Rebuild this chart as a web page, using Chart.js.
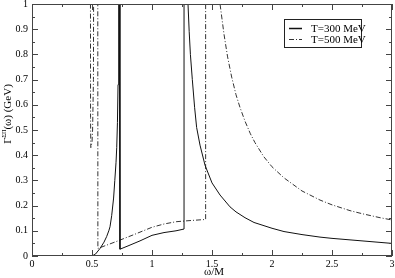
<!DOCTYPE html>
<html>
<head>
<meta charset="utf-8">
<script src="https://cdn.jsdelivr.net/npm/chart.js@4/dist/chart.umd.min.js"></script>
<style>
  body { margin: 0; background: #fff; }
  canvas { display: block; }
</style>
</head>
<body>
<canvas id="gammaChart" width="395" height="278"></canvas>
<script>
// values (values above 1 run off the top and get clipped)
const t300X = [0.50, 0.53, 0.567, 0.60, 0.622, 0.64, 0.65, 0.664, 0.68, 0.69, 0.70, 0.706, 0.712, 0.717,
               0.721, 0.724, 0.727, 0.733, 0.733, 0.80, 0.90, 1.00, 1.10, 1.20, 1.267, 1.267, 1.29, 1.30,
               1.31, 1.32, 1.336, 1.355, 1.372, 1.40, 1.442, 1.50, 1.567, 1.65, 1.70, 1.775, 1.85, 2.00,
               2.10, 2.25, 2.40, 2.50, 2.75, 3.00]
const t300Y = [0, 0.008, 0.03, 0.055, 0.077, 0.10, 0.116, 0.16, 0.23, 0.30, 0.37, 0.43, 0.53, 0.68,
               0.85, 1.0, 1.2, 1.2, 0.027, 0.04, 0.06, 0.082, 0.093, 0.100, 0.107, 1.2, 1.2, 1.0,
               0.89, 0.80, 0.70, 0.59, 0.51, 0.44, 0.36, 0.29, 0.242, 0.195, 0.175, 0.152, 0.133, 0.11,
               0.097, 0.085, 0.075, 0.07, 0.06, 0.05]

const t500X = [0.487, 0.488, 0.490, 0.500, 0.505, 0.512, 0.514, 0.548, 0.549, 0.70, 0.85, 1.00, 1.10,
               1.20, 1.30, 1.447, 1.447, 1.56, 1.567, 1.60, 1.63, 1.664, 1.70, 1.733, 1.775, 1.82,
               1.858, 1.93, 2.00, 2.10, 2.25, 2.40, 2.50, 2.65, 2.75, 2.90, 3.00]
const t500Y = [1.2, 0.55, 0.43, 0.45, 0.5, 0.7, 1.2, 1.2, 0.03, 0.057, 0.085, 0.114, 0.127,
               0.136, 0.140, 0.145, 1.2, 1.2, 1.0, 0.88, 0.79, 0.71, 0.64, 0.59, 0.535, 0.485,
               0.45, 0.395, 0.354, 0.31, 0.258, 0.222, 0.203, 0.18, 0.168, 0.152, 0.143]

const xTicks = [0, 0.5, 1, 1.5, 2, 2.5, 3]
const yTicks = [0, 0.1, 0.2, 0.3, 0.4, 0.5, 0.6, 0.7, 0.8, 0.9, 1]
const labels = ['T=300 MeV', 'T=500 MeV']

const serif = '"Liberation Serif", "DejaVu Serif", serif'

const toPoints = (xs, ys) => xs.map((x, i) => ({ x: x, y: ys[i] }))

// inward ticks on all four sides, frame, axis titles and the boxed legend
const framePlugin = {
    id: 'frame',
    afterDraw(chart) {
        const ctx = chart.ctx
        const a = chart.chartArea
        const xs = chart.scales.x
        const ys = chart.scales.y
        ctx.save()
        ctx.strokeStyle = '#444'
        ctx.lineWidth = 1
        ctx.strokeRect(Math.round(a.left) + 0.5, Math.round(a.top) + 0.5,
                       Math.round(a.right - a.left) - 1, Math.round(a.bottom - a.top) - 1)

        ctx.beginPath()
        for (let v = 0; v <= 3.0001; v += 0.25) {
            const px = Math.round(xs.getPixelForValue(v)) + 0.5
            const len = Math.abs(v * 2 - Math.round(v * 2)) < 1e-6 ? 6 : 3
            ctx.moveTo(px, a.bottom); ctx.lineTo(px, a.bottom - len)
            ctx.moveTo(px, a.top); ctx.lineTo(px, a.top + len)
        }
        for (let v = 0; v <= 1.0001; v += 0.05) {
            const py = Math.round(ys.getPixelForValue(v)) + 0.5
            const len = Math.abs(v * 10 - Math.round(v * 10)) < 1e-6 ? 6 : 3
            ctx.moveTo(a.left, py); ctx.lineTo(a.left + len, py)
            ctx.moveTo(a.right, py); ctx.lineTo(a.right - len, py)
        }
        ctx.stroke()

        // x title
        ctx.fillStyle = '#000'
        ctx.font = '11px ' + serif
        ctx.textAlign = 'center'
        ctx.textBaseline = 'middle'
        ctx.fillText('\u03c9/M', (a.left + a.right) / 2 + 2, 272)

        // y title, rotated, with superscript
        ctx.save()
        ctx.translate(7, 114)
        ctx.rotate(-Math.PI / 2)
        ctx.textAlign = 'left'
        const big = '11px ' + serif
        const small = '6px ' + serif
        ctx.font = big
        const w1 = ctx.measureText('\u0393').width
        const w3 = ctx.measureText('(\u03c9) (GeV)').width
        ctx.font = small
        const w2 = ctx.measureText('\u03a3\u03a0').width
        let x0 = -(w1 + w2 + w3) / 2
        ctx.font = big
        ctx.fillText('\u0393', x0, 1)
        ctx.font = small
        ctx.fillText('\u03a3\u03a0', x0 + w1, -3)
        ctx.font = big
        ctx.fillText('(\u03c9) (GeV)', x0 + w1 + w2, 1)
        ctx.restore()

        // legend
        ctx.strokeStyle = '#222'
        ctx.strokeRect(284.5, 19.5, 77, 28)
        ctx.font = '11px ' + serif
        ctx.textAlign = 'left'
        chart.data.datasets.forEach((ds, i) => {
            const y = 28.5 + i * 11
            ctx.beginPath()
            ctx.strokeStyle = ds.borderColor
            ctx.lineWidth = i === 0 ? 1.5 : 1
            ctx.setLineDash(ds.borderDash || [])
            ctx.moveTo(289, y); ctx.lineTo(302, y)
            ctx.stroke()
            ctx.setLineDash([])
            ctx.fillText(ds.label, 311, y + 0.5)
        })
        ctx.restore()
    }
}

const config = {
    type: 'line',
    data: {
        datasets: [{
            label: labels[0],
            data: toPoints(t300X, t300Y),
            borderColor: '#111',
            borderWidth: 1,
            pointRadius: 0,
            tension: 0
        },
        {
            label: labels[1],
            data: toPoints(t500X, t500Y),
            borderColor: '#333',
            borderWidth: 1,
            borderDash: [5, 2, 1, 2],
            pointRadius: 0,
            tension: 0
        }]
    },
    options: {
        responsive: false,
        animation: false,
        layout: { padding: { top: 4, right: 3, left: 0, bottom: 0 } },
        plugins: { legend: { display: false }, tooltip: { enabled: false } },
        scales: {
            x: {
                type: 'linear',
                min: 0,
                max: 3,
                grid: { display: false, drawTicks: false },
                border: { display: false },
                afterBuildTicks: (scale) => { scale.ticks = xTicks.map(v => ({ value: v })) },
                afterFit: (scale) => {
                    scale.height = 22
                    scale.paddingLeft = 0
                    scale.paddingRight = 0
                },
                ticks: {
                    color: '#000',
                    padding: 2,
                    maxRotation: 0,
                    font: { family: serif, size: 10 },
                    callback: (v) => String(+v.toFixed(2))
                }
            },
            y: {
                min: 0,
                max: 1,
                grid: { display: false, drawTicks: false },
                border: { display: false },
                afterBuildTicks: (scale) => { scale.ticks = yTicks.map(v => ({ value: v })) },
                afterFit: (scale) => {
                    scale.width = 32
                    scale.paddingTop = 0
                    scale.paddingBottom = 0
                },
                ticks: {
                    color: '#000',
                    padding: 4,
                    font: { family: serif, size: 10 },
                    callback: (v) => String(+v.toFixed(2))
                }
            }
        }
    },
    plugins: [framePlugin]
}

const gammaChart = new Chart(document.getElementById('gammaChart'), config)
</script>
</body>
</html>
